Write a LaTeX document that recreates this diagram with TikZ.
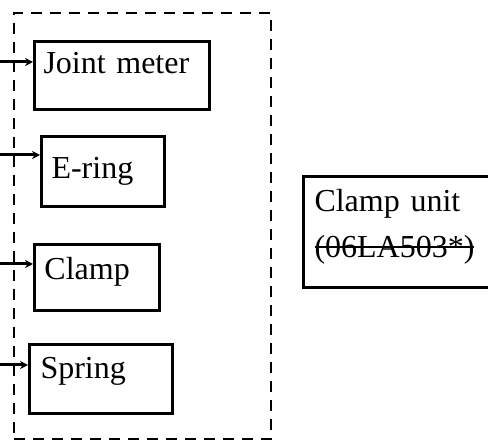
\documentclass[tikz,border=0pt]{standalone}
\usepackage{fontspec}
\setmainfont{Liberation Serif}
\usetikzlibrary{arrows.meta,positioning,calc}
\newcommand\struckout[1]{\setbox0=\hbox{#1}\hbox{\rlap{\vrule height 5.5pt depth -4.5pt width \wd0}\box0}}

\begin{document}
\begin{tikzpicture}[x=0.5pt,y=-0.5pt,>={Stealth[length=4pt,width=4pt]},
    part/.style={draw,line width=1.5pt,anchor=north west,align=left,inner ysep=0pt,font=\fontsize{16}{19}\selectfont},
    group/.style={draw,line width=1pt,dash pattern=on 5.5pt off 4pt,anchor=north west,inner sep=0pt},
    feed/.style={->,line width=1.5pt}]
    \useasboundingbox (0,0) rectangle (488,448);
    \clip (0,0) rectangle (488,448);
    \node[group,minimum width=128.5pt,minimum height=213pt] (grp) at (13,12) {};
    \node[part,inner xsep=4.5pt,text width=78.5pt,text height=16pt,text depth=18pt] (jm) at (33,40) {Joint meter};
    \node[part,inner xsep=5pt,text width=51.5pt,text height=21pt,text depth=14pt] (er) at (40,135) {E-ring};
    \node[part,inner xsep=5pt,text width=52.5pt,text height=17.5pt,text depth=15.5pt] (cl) at (33,243) {Clamp};
    \node[part,inner xsep=5.5pt,text width=89pt,text height=17.5pt,text depth=38pt] (cu) at (302,175)
      {Clamp unit\\[4pt]\struckout{(06LA503*)}};
    \node[part,inner xsep=5.5pt,text width=60.5pt,text height=17pt,text depth=17.5pt] (sp) at (28,343) {Spring};
    \coordinate (in1) at (0,62);
    \coordinate (in2) at (0,155);
    \coordinate (in3) at (0,264);
    \coordinate (in4) at (0,365);
    \draw[feed] (in1) -- (in1 -| jm.west);
    \draw[feed] (in2) -- (in2 -| er.west);
    \draw[feed] (in3) -- (in3 -| cl.west);
    \draw[feed] (in4) -- (in4 -| sp.west);
  \end{tikzpicture}
\end{document}
